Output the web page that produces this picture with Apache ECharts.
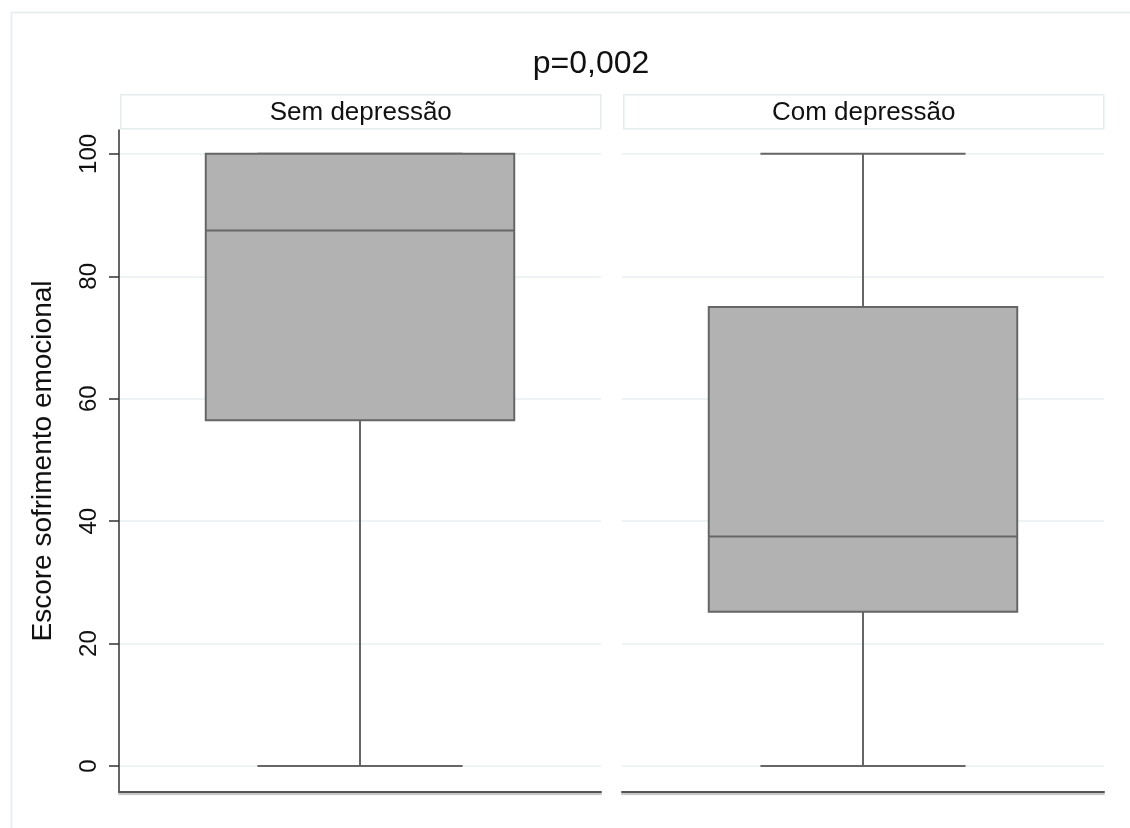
<!DOCTYPE html>
<html>
<head>
<meta charset="utf-8">
<script src="https://cdn.jsdelivr.net/npm/echarts@6/dist/echarts.min.js"></script>
<style>html,body{margin:0;padding:0;background:#fff}#c{width:1130px;height:828px}</style>
</head>
<body>
<div id="c"></div>
<script>
const title = 'p=0,002';
const panels = ['Sem depressão', 'Com depressão'];
const yAxisName = 'Escore sofrimento emocional';
const yTicks = [0, 20, 40, 60, 80, 100];
// [min, Q1, median, Q3, max]
const semDepressao = [0, 56.5, 87.5, 100, 100];
const comDepressao = [0, 25.2, 37.5, 75, 100];
const groups = [semDepressao, comDepressao];

const FONT = 'Liberation Sans, Arial, Helvetica, sans-serif';
const chart = echarts.init(document.getElementById('c'));

const gridLeft = [119, 622];
const gridW = 482;
const gridTop = 130, gridH = 662;

function renderBox(params, api) {
  const v = [api.value(1), api.value(2), api.value(3), api.value(4), api.value(5)];
  const cx = api.coord([0, v[2]])[0];
  const band = api.size([1, 0])[0];
  const hw = band * 0.32;
  const cw = hw * 0.665;
  const y = v.map(val => api.coord([0, val])[1]);
  const stroke = { stroke: '#666666', lineWidth: 2 };
  return {
    type: 'group',
    children: [
      { type: 'line', shape: { x1: cx, y1: y[0], x2: cx, y2: y[1] }, style: stroke },
      { type: 'line', shape: { x1: cx, y1: y[3], x2: cx, y2: y[4] }, style: stroke },
      { type: 'line', shape: { x1: cx - cw, y1: y[0], x2: cx + cw, y2: y[0] }, style: stroke },
      { type: 'line', shape: { x1: cx - cw, y1: y[4], x2: cx + cw, y2: y[4] }, style: stroke },
      { type: 'rect', shape: { x: cx - hw, y: y[3], width: hw * 2, height: y[1] - y[3] },
        style: { fill: '#b2b2b2', stroke: '#666666', lineWidth: 2 } },
      { type: 'line', shape: { x1: cx - hw, y1: y[2], x2: cx + hw, y2: y[2] }, style: stroke }
    ]
  };
}

const graphics = [
  { type: 'rect', left: 9, top: 10, shape: { width: 1200, height: 900 },
    style: { fill: 'none', stroke: '#e4ecee', lineWidth: 1.5 }, silent: true, z: -10 }
];
panels.forEach((p, i) => {
  graphics.push({
    type: 'group', left: gridLeft[i] + 1, top: 94,
    children: [
      { type: 'rect', shape: { x: 0, y: 0, width: gridW - 2, height: 34 },
        style: { fill: '#ffffff', stroke: '#e4ecee', lineWidth: 1.5 } },
      { type: 'text', x: (gridW - 2) / 2, y: 18,
        style: { text: p, fill: '#111', font: '26px ' + FONT, align: 'center', verticalAlign: 'middle' } }
    ]
  });
});

const option = {
  backgroundColor: '#ffffff',
  animation: false,
  title: { text: title, left: 586, top: 43, textAlign: 'center',
    textStyle: { fontFamily: FONT, fontSize: 32, fontWeight: 'normal', color: '#111' } },
  graphic: graphics,
  grid: gridLeft.map(l => ({ left: l, top: gridTop, width: gridW, height: gridH })),
  xAxis: panels.map((p, i) => ({
    type: 'category', gridIndex: i, data: [p],
    axisLine: { show: true, onZero: false, lineStyle: { color: '#555', width: 2, shadowColor: 'rgba(0,0,0,0.25)', shadowOffsetY: 2, shadowBlur: 1 } },
    axisTick: { show: false }, axisLabel: { show: false }, splitLine: { show: false }
  })),
  yAxis: panels.map((p, i) => ({
    type: 'value', gridIndex: i, min: -4.25, max: 103.9,
    name: i === 0 ? yAxisName : '', nameLocation: 'middle', nameGap: 62, nameRotate: 90,
    nameTextStyle: { fontFamily: FONT, fontSize: 28, color: '#111' },
    axisLine: { show: i === 0, lineStyle: { color: '#333', width: 1.5 } },
    axisTick: { show: i === 0, length: 10, customValues: yTicks, lineStyle: { color: '#333', width: 1.5 } },
    axisLabel: { show: i === 0, customValues: yTicks, rotate: 90, margin: 18,
      fontFamily: FONT, fontSize: 24, color: '#111' },
    splitLine: { show: true, lineStyle: { color: '#e8f0f2', width: 1.5 } }
  })),
  series: groups.map((g, i) => ({
    type: 'custom', xAxisIndex: i, yAxisIndex: i,
    renderItem: renderBox,
    encode: { x: 0, y: [1, 2, 3, 4, 5] },
    data: [[0].concat(g)]
  }))
};
chart.setOption(option);
</script>
</body>
</html>
